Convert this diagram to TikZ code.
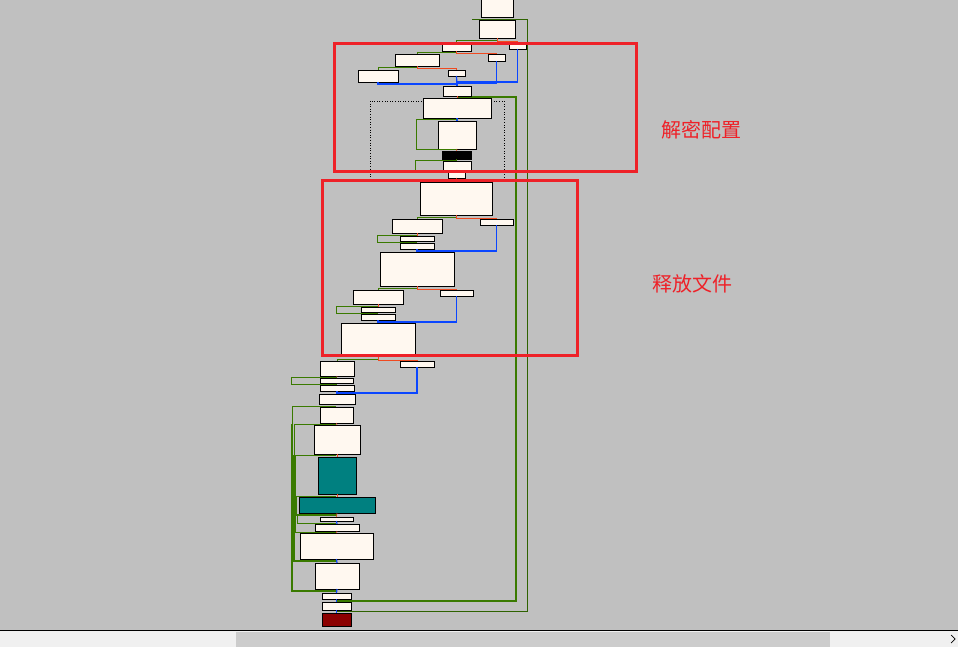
\documentclass[tikz,border=0pt]{standalone}
\usepackage{fontspec}
\newfontfamily\cjk{Noto Sans CJK SC}
\usepackage{tikz}
\usetikzlibrary{positioning, calc}
\definecolor{idabg}{HTML}{C0C0C0}
\definecolor{blkfill}{HTML}{FFF8F0}
\definecolor{gline}{HTML}{3A7A00}
\definecolor{rline}{HTML}{F04A20}
\definecolor{bline}{HTML}{0A46FF}
\definecolor{tealblk}{HTML}{008080}
\definecolor{endblk}{HTML}{8B0000}
\definecolor{mark}{HTML}{EE2128}
\newcommand{\blk}[6][blk]{%
  \node[#1, minimum width={(#5-#3)*1pt}, minimum height={(#6-#4)*1pt}] (#2) at ({(#3+#5)/2},{(#4+#6)/2}) {};}
\begin{document}
\begin{tikzpicture}[x=1pt, y=-1pt]
    \tikzstyle{blk}=[rectangle, draw=black, fill=blkfill, line width=0.7pt, inner sep=0pt, outer sep=0pt]
    \tikzstyle{dark}=[blk, fill=black]
    \tikzstyle{tealbox}=[blk, fill=tealblk]
    \tikzstyle{endbox}=[blk, fill=endblk]
    \tikzstyle{gedge}=[draw=gline, line width=0.6pt]
    \tikzstyle{gthick}=[draw=gline, line width=1.6pt]
    \tikzstyle{redge}=[draw=rline, line width=0.6pt]
    \tikzstyle{bedge}=[draw=bline, line width=1.2pt]
    \tikzstyle{hilite}=[draw=mark, line width=3pt]
    \useasboundingbox (0,0) rectangle (958,647);
    \fill[idabg] (0,0) rectangle (958,630);
    % back edges on the right
    \draw[draw=gline!80!black, line width=0.5pt] (472,19) -- (527,19) -- (527,611) -- (337,611);
    \draw[gthick] (457,97) -- (516,97) -- (516,601) -- (337,601);
    % dotted region
    \draw[dotted, line width=0.6pt] (370,101) rectangle (504,180);
    % blocks
    \blk{b1}{481}{-2}{513}{17}
    \blk{b2}{479}{20}{515}{38}
    \blk{b3}{442}{42}{471}{51}
    \blk{b4}{509}{42}{526}{49}
    \blk{b5}{395}{54}{439}{66}
    \blk{b6}{488}{54}{505}{61}
    \blk{b7}{358}{70}{398}{82}
    \blk{b8}{448}{70}{465}{76}
    \blk{b9}{443}{86}{471}{96}
    \blk{b10}{423}{98}{491}{118}
    \blk{b11}{438}{121}{476}{149}
    \blk[dark]{b12}{442}{151}{471}{159}
    \blk{b13}{443}{161}{471}{170}
    \blk{b14}{448}{172}{465}{178}
    \blk{b15}{420}{182}{492}{215}
    \blk{b16}{392}{219}{442}{233}
    \blk{b17}{480}{219}{513}{225}
    \blk{b18}{400}{236}{434}{241}
    \blk{b19}{400}{243}{434}{249}
    \blk{b20}{380}{252}{454}{286}
    \blk{b21}{353}{290}{403}{304}
    \blk{b22}{440}{290}{473}{296}
    \blk{b23}{361}{307}{395}{312}
    \blk{b24}{361}{314}{395}{320}
    \blk{b25}{341}{323}{415}{355}
    \blk{b26}{320}{361}{354}{376}
    \blk{b27}{400}{361}{434}{367}
    \blk{b28}{320}{378}{353}{383}
    \blk{b29}{320}{385}{354}{391}
    \blk{b30}{319}{394}{355}{404}
    \blk{b31}{320}{407}{353}{423}
    \blk{b32}{314}{425}{360}{454}
    \blk[tealbox]{b33}{318}{457}{356}{494}
    \blk[tealbox]{b34}{299}{497}{375}{513}
    \blk{b35}{320}{517}{353}{521}
    \blk{b36}{315}{524}{359}{531}
    \blk{b37}{300}{533}{373}{559}
    \blk{b38}{315}{563}{359}{589}
    \blk{b39}{322}{593}{351}{599}
    \blk{b40}{322}{602}{351}{610}
    \blk[endbox]{b41}{322}{613}{351}{626}
    % edges, upper part
    \draw[gedge] (b2.south) -- ++(0,2) -| (b3.north);
    \draw[redge] (b2.south) -- ++(0,3) -| (b4.north);
    \draw[gedge] (b3.south) -- ++(0,1.5) -| (b5.north);
    \draw[redge] (b3.south) -- ++(0,2.5) -| (b6.north);
    \draw[gedge] (b5.south) -- ++(0,1.5) -| (b7.north);
    \draw[redge] (b5.south) -- ++(0,2.5) -| (b8.north);
    \draw[bedge, bline] (b7.south) -- ++(0,2) -| (b9.north);
    \draw[bedge, bline] (b8.south) -- (b9.north);
    \draw[bedge, bline] (b6.south) |- ($(b9.north)+(0,-3)$);
    \draw[bedge, bline] (b4.south) |- ($(b9.north)+(0,-4)$);
    \draw[redge] (b9.south) -- (b10.north);
    \draw[bedge, bline] (b10.south) -- (b11.north);
    \draw[gedge] (b11.south) -- ++(-41,0) |- ($(b11.north)+(0,-2)$);
    \draw[redge] (b11.south) -- (b12.north);
    \draw[gedge] (b12.south) -- ++(0,1) -| ++(-41,10);
    \draw[redge] (b13.south) -- (b14.north);
    \draw[redge] (b14.south) -- (b15.north);
    % edges, middle part
    \draw[gedge] (b15.south) -- ++(0,2) -| (b16.north);
    \draw[redge] (b15.south) -- ++(0,3) -| (b17.north);
    \draw[redge] (b16.south) -- (b18.north);
    \draw[gedge] ($(b18.south)+(0,1)$) -- ++(-40,0) -- ++(0,-7) -- ++(40,0);
    \draw[bedge, bline] (b19.south) -- ++(0,2) -| (b17.south);
    \draw[bedge, bline] (b19.south) -- (b20.north);
    \draw[gedge] (b20.south) -- ++(0,2) -| (b21.north);
    \draw[redge] (b20.south) -- ++(0,3) -| (b22.north);
    \draw[redge] (b21.south) -- (b23.north);
    \draw[gedge] ($(b23.south)+(0,1)$) -- ++(-42,0) -- ++(0,-7) -- ++(42,0);
    \draw[bedge, bline] (b24.south) -- ++(0,2) -| (b22.south);
    \draw[bedge, bline] (b24.south) -- (b25.north);
    \draw[gedge] (b25.south) -- ++(0,4) -| (b26.north);
    \draw[redge] (b25.south) -- ++(0,5) -| (b27.north);
    \draw[redge] (b26.south) -- (b28.north);
    \draw[gedge] ($(b28.south)+(0,1)$) -- ++(-45,0) -- ++(0,-7) -- ++(45,0);
    \draw[bedge, bline] (b29.south) -- ++(0,2) -| (b27.south);
    % edges, lower part
    \draw[gedge] (336,406) -- (292,406) -- (292,424);
    \draw[gthick] (292,424) -- (292,591) -- (337,591);
    \draw[gedge] (336,424) -- (294,424) -- (294,561);
    \draw[gthick] (294,455) -- (294,561) -- (337,561);
    \draw[gedge] (336,455) -- (295,455) -- (295,532);
    \draw[gthick] (296,496) -- (296,515) -- (337,515);
    \draw[gedge] (336,496) -- (296,496);
    \draw[gedge] (336,523) -- (297,523) -- (297,515);
    \draw[gedge] (336,532) -- (295,532);
    \foreach \a/\b in {b31/b32,b32/b33,b33/b34,b34/b35,b36/b37}
      \draw[redge] (\a.south) -- (\b.north);
    \foreach \a/\b in {b35/b36,b37/b38,b38/b39,b39/b40,b40/b41}
      \draw[bedge, bline] (\a.south) -- (\b.north);
    % highlights
    \draw[hilite] (334,44) rectangle (636,172);
    \draw[hilite] (322,181) rectangle (577,355);
    \node[text=mark, font=\cjk\fontsize{20}{24}\selectfont] (lbl1) at (701,130) {解密配置};
    \node[text=mark, font=\cjk\fontsize{20}{24}\selectfont] (lbl2) at (692,284) {释放文件};
    % scroll bar
    \fill[black!6] (0,631) rectangle (958,647);
    \fill[black!20] (236,632) rectangle (830,647);
    \draw[line width=1pt] (0,630.5) -- (958,630.5);
    \draw[line width=0.7pt] (951,635) -- (955,639) -- (951,643);
\end{tikzpicture}
\end{document}
